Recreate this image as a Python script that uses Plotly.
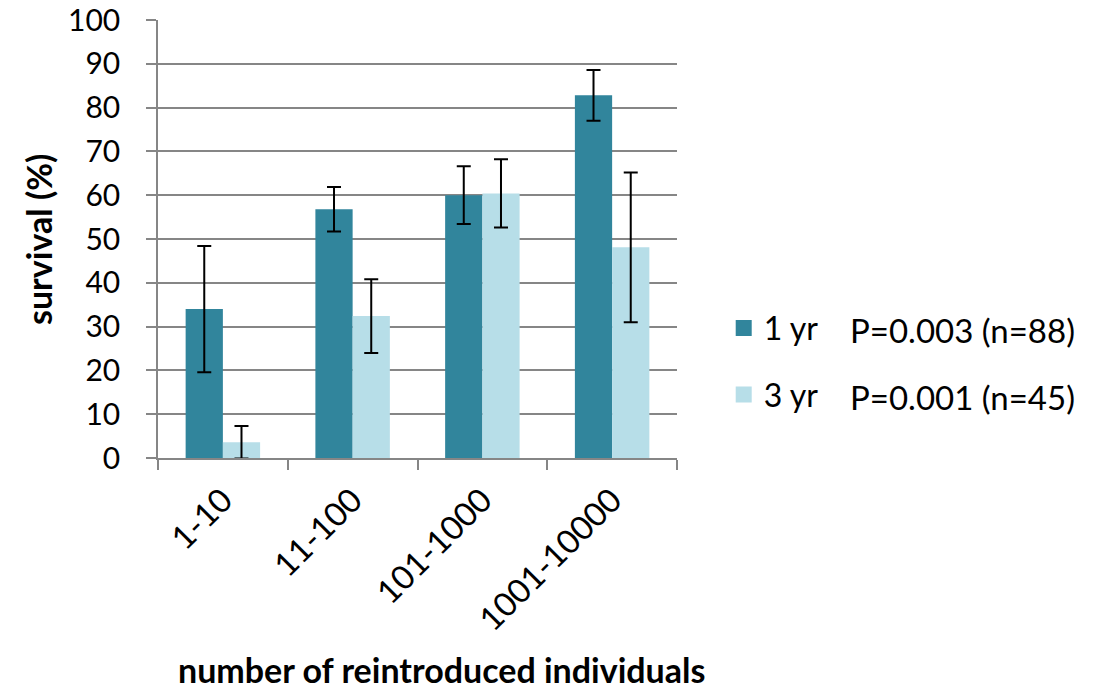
import plotly.graph_objects as go

categories = ["1-10", "11-100", "101-1000", "1001-10000"]
surv_1yr = [34.0, 56.8, 60.0, 82.8]
err_1yr = [14.4, 5.1, 6.6, 5.8]
surv_3yr = [3.6, 32.4, 60.4, 48.1]
err_3yr = [3.7, 8.4, 7.8, 17.1]
series_names = ["1 yr", "3 yr"]
p_labels = ["P=0.003 (n=88)", "P=0.001 (n=45)"]
y_ticks = [0, 10, 20, 30, 40, 50, 60, 70, 80, 90, 100]

DARK = "#31859C"
LIGHT = "#B7DEE8"
GRID = "#868686"
FONT = "Lato"

fig = go.Figure()
for vals, errs, col in [(surv_1yr, err_1yr, DARK), (surv_3yr, err_3yr, LIGHT)]:
    fig.add_trace(go.Bar(
        x=categories, y=vals, marker=dict(color=col, line=dict(width=0)),
        error_y=dict(type="data", array=errs, color="black", thickness=2, width=7),
        showlegend=False,
    ))
for name, col in zip(series_names, [DARK, LIGHT]):
    fig.add_trace(go.Scatter(
        x=[None], y=[None], mode="markers", name=name, legendgroup=name,
        marker=dict(symbol="square", size=16, color=col),
    ))

fig.update_layout(
    width=1102, height=694,
    margin=dict(l=158, r=425, t=20, b=236, autoexpand=False),
    paper_bgcolor="white", plot_bgcolor="white",
    barmode="group", bargap=0.426, bargroupgap=0,
    font=dict(family=FONT, size=32, color="black"),
    legend=dict(x=1.09, y=0.22, xanchor="left", yanchor="middle",
                font=dict(family=FONT, size=32), tracegroupgap=22,
                itemsizing="trace"),
)
fig.update_xaxes(
    range=[-0.5, 3.5], showline=True, linecolor=GRID, linewidth=1.5,
    ticks="outside", ticklen=10, tickcolor=GRID, tickwidth=1.5,
    tickson="boundaries", tickangle=-45, showgrid=False, automargin=False,
    tickfont=dict(family=FONT, size=33), ticklabelstandoff=8,
)
fig.update_yaxes(
    range=[0, 100], tickvals=y_ticks, showline=True, linecolor=GRID, linewidth=1.5,
    ticks="outside", ticklen=10, tickcolor=GRID, tickwidth=1.5, automargin=False,
    showgrid=True, gridcolor=GRID, gridwidth=1.5, zeroline=False,
    tickfont=dict(family=FONT, size=30), ticklabelstandoff=20,
)

fig.add_annotation(text="<b>survival (%)</b>", xref="paper", yref="paper",
                   x=(38 - 158) / 519, y=(458 - 240) / 438, textangle=-90,
                   xanchor="center", yanchor="middle", showarrow=False,
                   font=dict(family=FONT, size=34))
fig.add_annotation(text="<b>number of reintroduced individuals</b>", xref="paper", yref="paper",
                   x=(441 - 158) / 519, y=(458 - 670) / 438,
                   xanchor="center", yanchor="middle", showarrow=False,
                   font=dict(family=FONT, size=34))
for i, txt in enumerate(p_labels):
    fig.add_annotation(text=txt, xref="paper", yref="paper",
                       x=(848 - 158) / 519, y=(458 - [330, 397][i]) / 438,
                       xanchor="left", yanchor="middle", showarrow=False,
                       font=dict(family=FONT, size=33))

fig.write_html("out.html")
